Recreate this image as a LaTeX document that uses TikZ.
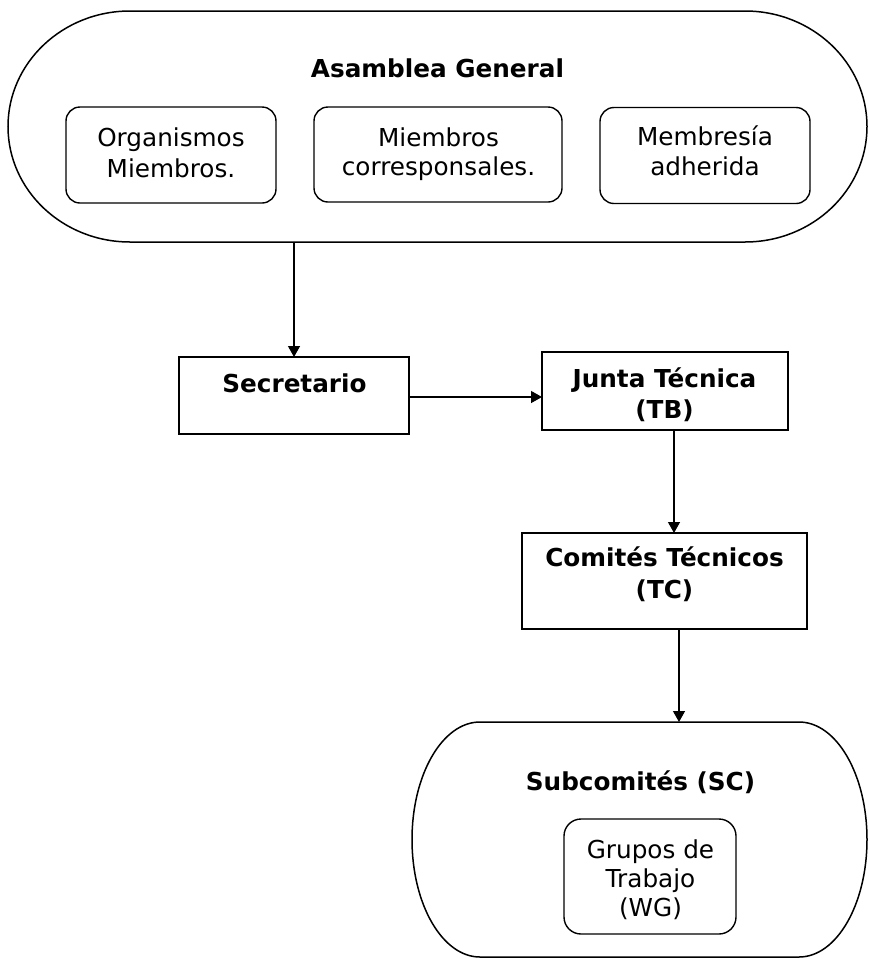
\documentclass[tikz,border=0pt]{standalone}
\usepackage{fontspec}
\setmainfont{DejaVu Sans}
\usetikzlibrary{arrows.meta}
\newcommand\mlines[1]{\begin{tabular}[t]{@{}c@{}}#1\end{tabular}}
\begin{document}
\begin{tikzpicture}[x=1pt,y=-1pt,
  every node/.style={inner sep=0pt, outer sep=0pt},
  txt/.style={font=\fontsize{24.7}{#1}\selectfont, anchor=base},
  txt/.default=30,
  btxt/.style={font=\fontsize{24.7}{#1}\selectfont\bfseries, anchor=base},
  btxt/.default=31.5,
  rbox/.style={draw, line width=1.4pt, rounded corners=14pt},
  sbox/.style={draw, line width=1.4pt},
  arr/.style={line width=1.3pt, -{Triangle[length=11pt,width=12pt]}},
  outline/.style={line width=1.5pt}]
\useasboundingbox (0,0) rectangle (869,959);

% Asamblea General container
\node[minimum width=859pt, minimum height=231pt] (ag) at (437.5,126.5) {};
\draw[outline] ([xshift=122pt]ag.north west) -- ([xshift=-122pt]ag.north east)
  arc[start angle=-90,end angle=90,x radius=122,y radius=115.5]
  -- ([xshift=122pt]ag.south west)
  arc[start angle=90,end angle=270,x radius=122,y radius=115.5] -- cycle;
\node[btxt] (agt) at (437.5,77) {Asamblea General};

\node[rbox, minimum width=210pt, minimum height=96pt] (om) at (171,155) {};
\node[txt=31] (omt) at (171,146) {\mlines{Organismos\\Miembros.}};
\node[rbox, minimum width=248pt, minimum height=95pt] (mc) at (438,154.5) {};
\node[txt=28.5] (mct) at (438.5,146.7) {\mlines{Miembros\\corresponsales.}};
\node[rbox, minimum width=210pt, minimum height=96pt] (ma) at (705,155.5) {};
\node[txt=30] (mat) at (705,145) {\mlines{Membresía\\adherida}};

% Secretario
\node[sbox, minimum width=230pt, minimum height=77pt] (sec) at (294,395.5) {};
\node[btxt] (sect) at (294.5,392) {Secretario};

% Junta Tecnica
\node[sbox, minimum width=246pt, minimum height=78pt] (jt) at (665,391) {};
\node[btxt=31] (jtt) at (664.5,387) {\mlines{Junta Técnica\\(TB)}};

% Comites Tecnicos
\node[sbox, minimum width=285pt, minimum height=96pt] (ct) at (664.5,581) {};
\node[btxt=32] (ctt) at (664.5,566) {\mlines{Comités Técnicos\\(TC)}};

% Subcomites container
\node[minimum width=455pt, minimum height=235pt] (sc) at (639.5,839.5) {};
\draw[outline] ([xshift=68pt]sc.north west) -- ([xshift=-68pt]sc.north east)
  arc[start angle=-90,end angle=90,x radius=68,y radius=117.5]
  -- ([xshift=68pt]sc.south west)
  arc[start angle=90,end angle=270,x radius=68,y radius=117.5] -- cycle;
\node[btxt] (sct) at (640.5,790) {Subcomités (SC)};
\node[rbox, minimum width=172pt, minimum height=115pt, rounded corners=17pt] (wg) at (650,876.5) {};
\node[txt=29] (wgt) at (650.5,858) {\mlines{Grupos de\\Trabajo\\(WG)}};

% connectors
\draw[arr] (sec.north |- ag.south) -- (sec.north);
\draw[arr] ([yshift=-1.5pt]sec.east) -- ([yshift=-1.5pt]sec.east -| jt.west);
\draw[arr] ([xshift=9pt]jt.south) -- ([xshift=9pt]jt.south |- ct.north);
\draw[arr] ([xshift=14.5pt]ct.south) -- ([xshift=14.5pt]ct.south |- sc.north);
\end{tikzpicture}
\end{document}
